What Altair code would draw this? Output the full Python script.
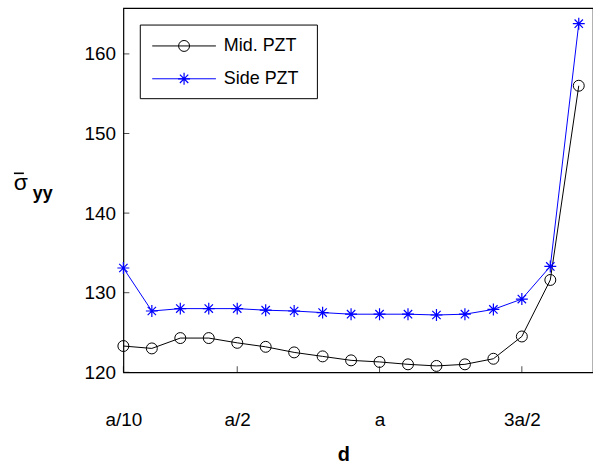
import altair as alt
import pandas as pd

# ---- data ----
x_idx = list(range(1, 18))  # d in units of a/10
mid_pzt = [123.3, 123.0, 124.3, 124.3, 123.7, 123.2, 122.5, 122.0, 121.5,
           121.3, 121.0, 120.8, 121.0, 121.7, 124.5, 131.6, 156.0]
side_pzt = [133.1, 127.7, 128.0, 128.0, 128.0, 127.8, 127.7, 127.5, 127.3,
            127.3, 127.3, 127.2, 127.3, 127.9, 129.2, 133.3, 163.8]
series_names = ["Mid. PZT", "Side PZT"]
x_tick_vals = [1, 5, 10, 15]
x_tick_labels = ["a/10", "a/2", "a", "3a/2"]
y_tick_vals = [120, 130, 140, 150, 160]

FONT = "Liberation Sans"
BLUE = "#0000ff"
STAR = "M0,-1L0,1M-1,0L1,0M-0.7,-0.7L0.7,0.7M-0.7,0.7L0.7,-0.7"

df = pd.DataFrame({
    "d": x_idx * 2,
    "v": mid_pzt + side_pzt,
    "s": [series_names[0]] * len(x_idx) + [series_names[1]] * len(x_idx),
})

label_expr = " : ".join(
    f"datum.value == {v} ? '{l}'" for v, l in zip(x_tick_vals, x_tick_labels)
) + " : ''"

xs = alt.Scale(domain=[1, 17.5], nice=False, zero=False)
ys = alt.Scale(domain=[120, 165.75], nice=False, zero=False)

X = alt.X("d:Q", scale=xs, axis=alt.Axis(
    values=x_tick_vals, labelExpr=label_expr, tickSize=0, domain=False, grid=False,
    labelFlush=False, labelOverlap=False,
    labelFontSize=19, labelFont=FONT, labelBaseline="alphabetic", labelPadding=53,
    labelColor="black", title="d", titleFont=FONT, titleFontSize=20,
    titleFontWeight="bold", titleX=221, titleY=89, titleBaseline="alphabetic",
    titleAnchor="start", titleAlign="center", titleColor="black"))
Y = alt.Y("v:Q", scale=ys, axis=alt.Axis(
    values=y_tick_vals, tickSize=0, domain=False, grid=False, labelFontSize=19,
    labelFlush=False, labelOverlap=False,
    labelFont=FONT, labelPadding=8, labelColor="black", title=None))

color = alt.Color("s:N", scale=alt.Scale(domain=series_names, range=["black", BLUE]), legend=None)

lines = alt.Chart(df).mark_line(strokeWidth=1).encode(x=X, y=Y, color=color, detail="s:N")
mid_pts = alt.Chart(df).transform_filter(alt.datum.s == series_names[0]).mark_point(
    shape="circle", size=121, filled=False, color="black", strokeWidth=1, opacity=1
).encode(x=alt.X("d:Q", scale=xs), y=alt.Y("v:Q", scale=ys))
side_pts = alt.Chart(df).transform_filter(alt.datum.s == series_names[1]).mark_point(
    shape=STAR, size=144, filled=False, color=BLUE, strokeWidth=1.2, opacity=1
).encode(x=alt.X("d:Q", scale=xs), y=alt.Y("v:Q", scale=ys))

# inward ticks
yt = alt.Chart(pd.DataFrame({"v": y_tick_vals})).mark_tick(
    orient="horizontal", size=6, thickness=1, color="black"
).encode(y=alt.Y("v:Q", scale=ys), x=alt.value(3))
xt = alt.Chart(pd.DataFrame({"d": x_tick_vals})).mark_tick(
    orient="vertical", size=6, thickness=1, color="black"
).encode(x=alt.X("d:Q", scale=xs), y=alt.value(363))

# y-axis title: sigma-bar with subscript yy
one = pd.DataFrame({"t": ["σ"]})
sig = alt.Chart(one).mark_text(font=FONT, fontSize=23, align="center", baseline="alphabetic",
                               color="black").encode(x=alt.value(-103), y=alt.value(183), text="t:N")
sub = alt.Chart(pd.DataFrame({"t": ["yy"]})).mark_text(
    font=FONT, fontSize=18, fontWeight="bold", align="left", baseline="alphabetic", color="black"
).encode(x=alt.value(-91), y=alt.value(192), text="t:N")
bar = alt.Chart(one).mark_rule(color="black", strokeWidth=1.6).encode(
    x=alt.value(-110), x2=alt.value(-100), y=alt.value(166))

# legend
leg_box = alt.Chart(one).mark_rect(fill="white", stroke="black", strokeWidth=1).encode(
    x=alt.value(17), x2=alt.value(195), y=alt.value(17), y2=alt.value(91))
leg_rows = []
for i, (name, col) in enumerate(zip(series_names, ["black", BLUE])):
    yy = 38 + 33 * i
    d1 = pd.DataFrame({"t": [name]})
    leg_rows.append(alt.Chart(d1).mark_rule(color=col, strokeWidth=1).encode(
        x=alt.value(29), x2=alt.value(93), y=alt.value(yy)))
    leg_rows.append(alt.Chart(d1).mark_point(
        shape="circle" if i == 0 else STAR, size=121 if i == 0 else 144,
        filled=False, color=col, strokeWidth=1 if i == 0 else 1.2, opacity=1
    ).encode(x=alt.value(61), y=alt.value(yy)))
    leg_rows.append(alt.Chart(d1).mark_text(font=FONT, fontSize=18, align="left",
                                            baseline="middle", color="black").encode(
        x=alt.value(101), y=alt.value(yy), text="t:N"))

chart = alt.layer(lines, mid_pts, side_pts, yt, xt, sig, sub, bar, leg_box, *leg_rows).properties(
    width=472, height=366,
    padding={"left": 124, "top": 7, "right": 0, "bottom": 93},
    autosize=alt.AutoSizeParams(type="none"),
    background="white",
).configure_view(stroke="black", strokeWidth=1.2)

chart.save("out.html", embed_options={"renderer": "svg", "actions": False})
